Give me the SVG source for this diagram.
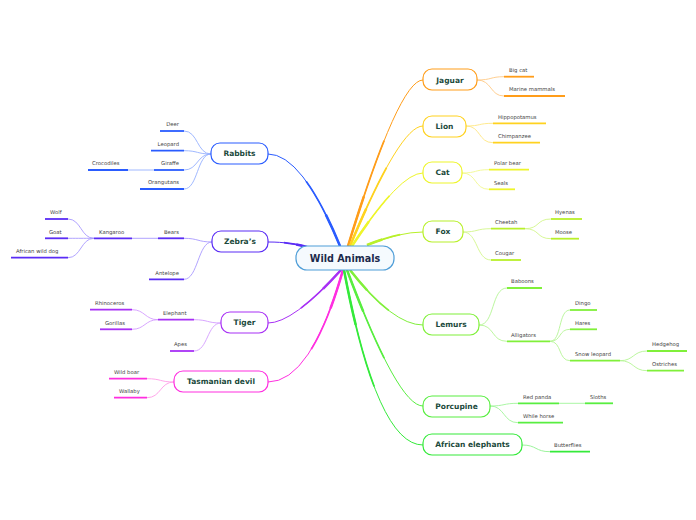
<svg xmlns="http://www.w3.org/2000/svg" width="696" height="520" viewBox="0 0 696 520">
<style>
.t1{fill:none;stroke-width:1}
.t2{fill:none;stroke-width:1.7;stroke-dasharray:60 200}
.t3{fill:none;stroke-width:2.5;stroke-dasharray:28 200}
.sub{fill:none;stroke-width:0.9}
.ul{stroke-width:1.8;fill:none}
.node rect{fill:#fff;stroke-width:1.2}
.nt{font-family:"DejaVu Sans",Verdana,sans-serif;font-weight:bold;font-size:7.5px;fill:#1b4a3c;text-anchor:middle}
.lt{font-family:"DejaVu Sans",Verdana,sans-serif;font-size:5.3px;fill:#444}
.r{text-anchor:end}
</style>
<defs>
<path id="cRab" pathLength="100" d="M340,246 Q302,154 268,154"/>
<path id="cZeb" pathLength="100" d="M307,247 C295,244 285,242 268,242"/>
<path id="cTig" pathLength="100" d="M341,270 Q293,323 268,323"/>
<path id="cTas" pathLength="100" d="M343,270 Q311,382 268,382"/>
<path id="cJag" pathLength="100" d="M348,246 Q399,80 423,80"/>
<path id="cLio" pathLength="100" d="M350,246 Q400,126 423,126"/>
<path id="cCat" pathLength="100" d="M352,246 Q400,173 423,173"/>
<path id="cFox" pathLength="100" d="M367,245 Q400,232 423,232"/>
<path id="cLem" pathLength="100" d="M350,270 Q393,325 423,325"/>
<path id="cPor" pathLength="100" d="M347,270 Q398,406 423,406"/>
<path id="cAfr" pathLength="100" d="M344,270 Q377,445 423,445"/>
</defs>
<rect width="696" height="520" fill="#fff"/>
<g id="connectors">
<g stroke="#2a5cff"><use href="#cRab" class="t1"/><use href="#cRab" class="t2"/><use href="#cRab" class="t3"/></g>
<g stroke="#5a2cf5"><use href="#cZeb" class="t1"/><use href="#cZeb" class="t2"/><use href="#cZeb" class="t3"/></g>
<g stroke="#a830f5"><use href="#cTig" class="t1"/><use href="#cTig" class="t2"/><use href="#cTig" class="t3"/></g>
<g stroke="#ff2ee0"><use href="#cTas" class="t1"/><use href="#cTas" class="t2"/><use href="#cTas" class="t3"/></g>
<g stroke="#ff9d1a"><use href="#cJag" class="t1"/><use href="#cJag" class="t2"/><use href="#cJag" class="t3"/></g>
<g stroke="#ffd21f"><use href="#cLio" class="t1"/><use href="#cLio" class="t2"/><use href="#cLio" class="t3"/></g>
<g stroke="#eef52a"><use href="#cCat" class="t1"/><use href="#cCat" class="t2"/><use href="#cCat" class="t3"/></g>
<g stroke="#b8f02a"><use href="#cFox" class="t1"/><use href="#cFox" class="t2"/><use href="#cFox" class="t3"/></g>
<g stroke="#80f03a"><use href="#cLem" class="t1"/><use href="#cLem" class="t2"/><use href="#cLem" class="t3"/></g>
<g stroke="#58ee40"><use href="#cPor" class="t1"/><use href="#cPor" class="t2"/><use href="#cPor" class="t3"/></g>
<g stroke="#34ea3a"><use href="#cAfr" class="t1"/><use href="#cAfr" class="t2"/><use href="#cAfr" class="t3"/></g>
<!-- Jaguar -->
<path class="sub" stroke="#ffc986" d="M477,80 C492,80 490,76.7 504,76.7 M477,80 C492,80 490,96 504,96"/>
<!-- Lion -->
<path class="sub" stroke="#ffe680" d="M466,126 C481,126 478,123.3 493,123.3 M466,126 C481,126 478,142.7 493,142.7"/>
<!-- Cat -->
<path class="sub" stroke="#f2f890" d="M462,173 C477,173 474,169.7 489,169.7 M462,173 C477,173 474,189.3 489,189.3"/>
<!-- Fox -->
<path class="sub" stroke="#d2f68a" d="M463,232 C478,232 476,228.7 491,228.7 M463,232 C478,232 476,260 491,260 M525,228.7 C540,228.7 536,219 551,219 M525,228.7 C540,228.7 536,238.7 551,238.7"/>
<!-- Lemurs -->
<path class="sub" stroke="#b4f594" d="M479,325 C495,325 491,288 507,288 M479,325 C495,325 491,341.3 507,341.3 M550,341.3 C562,341.3 558,310 570,310 M550,341.3 C562,341.3 558,329.3 570,329.3 M550,341.3 C562,341.3 558,360.7 570,360.7 M620,360.7 C634,360.7 633,351 647,351 M620,360.7 C634,360.7 633,370.7 647,370.7"/>
<!-- Porcupine -->
<path class="sub" stroke="#a0f59a" d="M490,406 C505,406 503,403.3 518,403.3 M490,406 C505,406 503,422.7 518,422.7 M559,403.3 L585,403.3"/>
<!-- African elephants -->
<path class="sub" stroke="#90f290" d="M522,445 C537,445 535,451.7 550,451.7"/>
<!-- Rabbits -->
<path class="sub" stroke="#95b0ff" d="M211,154 C197,154 198,131 184,131 M211,154 C197,154 198,150.7 184,150.7 M211,154 C197,154 198,170 184,170 M211,154 C197,154 198,189 184,189 M154,170 L128,170"/>
<!-- Zebra's -->
<path class="sub" stroke="#a898ff" d="M212,242 C198,242 198,238.3 184,238.3 M212,242 C198,242 198,279.3 184,279.3 M158,238.3 L132,238.3 M94,238.3 C81,238.3 81,219 68,219 M94,238.3 C81,238.3 81,238.3 68,238.3 M94,238.3 C81,238.3 81,257.7 68,257.7"/>
<!-- Tiger -->
<path class="sub" stroke="#d49cff" d="M221,323 C207,323 208,319.7 194,319.7 M221,323 C207,323 208,351 194,351 M158,319.7 C145,319.7 145,309.7 132,309.7 M158,319.7 C145,319.7 145,329.3 132,329.3"/>
<!-- Tasmanian devil -->
<path class="sub" stroke="#ff9ce8" d="M174,382 C160,382 161,378.7 147,378.7 M174,382 C160,382 161,397.7 147,397.7"/>
</g>

<g id="center">
<rect x="296" y="246" width="98" height="24" rx="11" fill="#f5fafe" stroke="#4f9ed8" stroke-width="1.2"/>
<text x="345" y="261.5" font-family="DejaVu Sans,Verdana,sans-serif" font-weight="bold" font-size="9.6" fill="#1c2a4c" text-anchor="middle">Wild Animals</text>
</g>

<!-- Right side -->
<g id="jaguar" class="node"><rect x="423" y="69" width="54" height="21" rx="9" stroke="#ff9d1a"/><text class="nt" x="450" y="82.8">Jaguar</text></g>
<g id="bigcat"><line class="ul" x1="504" y1="76.7" x2="534" y2="76.7" stroke="#ff9d1a"/><text class="lt" x="509" y="72">Big cat</text></g>
<g id="marine"><line class="ul" x1="504" y1="96" x2="565" y2="96" stroke="#ff9d1a"/><text class="lt" x="509" y="91.3">Marine mammals</text></g>

<g id="lion" class="node"><rect x="423" y="116" width="43" height="21" rx="9" stroke="#ffd21f"/><text class="nt" x="444.5" y="129.3">Lion</text></g>
<g id="hippo"><line class="ul" x1="493" y1="123.3" x2="546" y2="123.3" stroke="#ffd21f"/><text class="lt" x="498" y="118.6">Hippopotamus</text></g>
<g id="chimp"><line class="ul" x1="493" y1="142.7" x2="540" y2="142.7" stroke="#ffd21f"/><text class="lt" x="498" y="138">Chimpanzee</text></g>

<g id="cat" class="node"><rect x="423" y="162" width="39" height="21" rx="9" stroke="#eef52a"/><text class="nt" x="442.5" y="175.3">Cat</text></g>
<g id="polar"><line class="ul" x1="489" y1="169.7" x2="529" y2="169.7" stroke="#eef52a"/><text class="lt" x="494" y="165">Polar bear</text></g>
<g id="seals"><line class="ul" x1="489" y1="189.3" x2="515" y2="189.3" stroke="#eef52a"/><text class="lt" x="494" y="184.6">Seals</text></g>

<g id="fox" class="node"><rect x="423" y="221" width="40" height="21" rx="9" stroke="#b8f02a"/><text class="nt" x="443" y="234.3">Fox</text></g>
<g id="cheetah"><line class="ul" x1="491" y1="228.7" x2="525" y2="228.7" stroke="#b8f02a"/><text class="lt" x="495" y="224">Cheetah</text></g>
<g id="hyenas"><line class="ul" x1="551" y1="219" x2="582" y2="219" stroke="#b8f02a"/><text class="lt" x="555" y="214.3">Hyenas</text></g>
<g id="moose"><line class="ul" x1="551" y1="238.7" x2="579" y2="238.7" stroke="#b8f02a"/><text class="lt" x="555" y="234">Moose</text></g>
<g id="cougar"><line class="ul" x1="491" y1="260" x2="521" y2="260" stroke="#b8f02a"/><text class="lt" x="495" y="255.3">Cougar</text></g>

<g id="lemurs" class="node"><rect x="423" y="314" width="56" height="21" rx="9" stroke="#80f03a"/><text class="nt" x="451" y="327.3">Lemurs</text></g>
<g id="baboons"><line class="ul" x1="507" y1="288" x2="542" y2="288" stroke="#80f03a"/><text class="lt" x="511" y="283.3">Baboons</text></g>
<g id="alligators"><line class="ul" x1="507" y1="341.3" x2="550" y2="341.3" stroke="#80f03a"/><text class="lt" x="511" y="336.6">Alligators</text></g>
<g id="dingo"><line class="ul" x1="570" y1="310" x2="597" y2="310" stroke="#80f03a"/><text class="lt" x="575" y="305.3">Dingo</text></g>
<g id="hares"><line class="ul" x1="570" y1="329.3" x2="597" y2="329.3" stroke="#80f03a"/><text class="lt" x="575" y="324.6">Hares</text></g>
<g id="snowleopard"><line class="ul" x1="570" y1="360.7" x2="620" y2="360.7" stroke="#80f03a"/><text class="lt" x="575" y="356">Snow leopard</text></g>
<g id="hedgehog"><line class="ul" x1="647" y1="351" x2="687" y2="351" stroke="#80f03a"/><text class="lt" x="652" y="346.3">Hedgehog</text></g>
<g id="ostriches"><line class="ul" x1="647" y1="370.7" x2="684" y2="370.7" stroke="#80f03a"/><text class="lt" x="652" y="366">Ostriches</text></g>

<g id="porcupine" class="node"><rect x="423" y="396" width="67" height="21" rx="9" stroke="#58ee40"/><text class="nt" x="456.5" y="409.3">Porcupine</text></g>
<g id="redpanda"><line class="ul" x1="518" y1="403.3" x2="559" y2="403.3" stroke="#58ee40"/><text class="lt" x="523" y="398.6">Red panda</text></g>
<g id="sloths"><line class="ul" x1="585" y1="403.3" x2="613" y2="403.3" stroke="#58ee40"/><text class="lt" x="590" y="398.6">Sloths</text></g>
<g id="whilehorse"><line class="ul" x1="518" y1="422.7" x2="563" y2="422.7" stroke="#58ee40"/><text class="lt" x="523" y="418">While horse</text></g>

<g id="afelephants" class="node"><rect x="423" y="434" width="99" height="21" rx="9" stroke="#34ea3a"/><text class="nt" x="472.5" y="447.3">African elephants</text></g>
<g id="butterflies"><line class="ul" x1="550" y1="451.7" x2="590" y2="451.7" stroke="#34ea3a"/><text class="lt" x="554" y="447">Butterflies</text></g>

<!-- Left side -->
<g id="rabbits" class="node"><rect x="211" y="143" width="57" height="21" rx="9" stroke="#2a5cff"/><text class="nt" x="239.5" y="156.3">Rabbits</text></g>
<g id="deer"><line class="ul" x1="160" y1="131" x2="184" y2="131" stroke="#2a5cff"/><text class="lt r" x="179" y="126.3">Deer</text></g>
<g id="leopard"><line class="ul" x1="151" y1="150.7" x2="184" y2="150.7" stroke="#2a5cff"/><text class="lt r" x="179" y="146">Leopard</text></g>
<g id="giraffe"><line class="ul" x1="154" y1="170" x2="184" y2="170" stroke="#2a5cff"/><text class="lt r" x="179" y="165.3">Giraffe</text></g>
<g id="crocodiles"><line class="ul" x1="88" y1="170" x2="128" y2="170" stroke="#2a5cff"/><text class="lt" x="92" y="165.3">Crocodiles</text></g>
<g id="orangutans"><line class="ul" x1="140" y1="189" x2="184" y2="189" stroke="#2a5cff"/><text class="lt r" x="179" y="184.3">Orangutans</text></g>

<g id="zebras" class="node"><rect x="212" y="231" width="56" height="21" rx="9" stroke="#5a2cf5"/><text class="nt" x="240" y="244.3">Zebra’s</text></g>
<g id="bears"><line class="ul" x1="158" y1="238.3" x2="184" y2="238.3" stroke="#5a2cf5"/><text class="lt r" x="179" y="233.6">Bears</text></g>
<g id="kangaroo"><line class="ul" x1="94" y1="238.3" x2="132" y2="238.3" stroke="#5a2cf5"/><text class="lt" x="99" y="233.6">Kangaroo</text></g>
<g id="wolf"><line class="ul" x1="45" y1="219" x2="68" y2="219" stroke="#5a2cf5"/><text class="lt" x="50" y="214.3">Wolf</text></g>
<g id="goat"><line class="ul" x1="45" y1="238.3" x2="68" y2="238.3" stroke="#5a2cf5"/><text class="lt" x="49" y="233.6">Goat</text></g>
<g id="wilddog"><line class="ul" x1="11" y1="257.7" x2="68" y2="257.7" stroke="#5a2cf5"/><text class="lt" x="16" y="253">African wild dog</text></g>
<g id="antelope"><line class="ul" x1="149" y1="279.3" x2="184" y2="279.3" stroke="#5a2cf5"/><text class="lt r" x="179" y="274.6">Antelope</text></g>

<g id="tiger" class="node"><rect x="221" y="312" width="47" height="21" rx="9" stroke="#a830f5"/><text class="nt" x="244.5" y="325.3">Tiger</text></g>
<g id="elephant"><line class="ul" x1="158" y1="319.7" x2="194" y2="319.7" stroke="#a830f5"/><text class="lt" x="163" y="315">Elephant</text></g>
<g id="rhino"><line class="ul" x1="90" y1="309.7" x2="132" y2="309.7" stroke="#a830f5"/><text class="lt" x="95" y="305">Rhinoceros</text></g>
<g id="gorillas"><line class="ul" x1="100" y1="329.3" x2="132" y2="329.3" stroke="#a830f5"/><text class="lt" x="105" y="324.6">Gorillas</text></g>
<g id="apes"><line class="ul" x1="170" y1="351" x2="194" y2="351" stroke="#a830f5"/><text class="lt" x="174" y="346.3">Apes</text></g>

<g id="tasmanian" class="node"><rect x="174" y="371" width="94" height="21" rx="9" stroke="#ff2ee0"/><text class="nt" x="221" y="384.3">Tasmanian devil</text></g>
<g id="wildboar"><line class="ul" x1="109" y1="378.7" x2="147" y2="378.7" stroke="#ff2ee0"/><text class="lt" x="114" y="374">Wild boar</text></g>
<g id="wallaby"><line class="ul" x1="114" y1="397.7" x2="147" y2="397.7" stroke="#ff2ee0"/><text class="lt" x="119" y="393">Wallaby</text></g>
</svg>
